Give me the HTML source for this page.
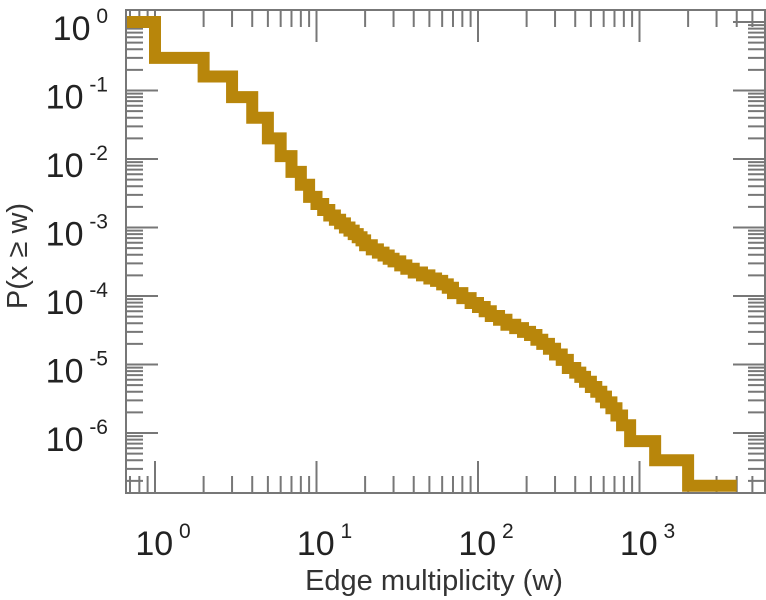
<!DOCTYPE html>
<html><head><meta charset="utf-8"><style>
body{margin:0;background:#fff;}
svg{display:block;font-family:"Liberation Sans",sans-serif;}
</style></head><body>
<svg id="chart" width="766" height="600" viewBox="0 0 766 600">
<g id="ticks"></g>
<g id="labels"></g>
<path id="series" fill="none" stroke="#b8860b" stroke-width="12" stroke-linejoin="miter" stroke-linecap="butt"/>
<rect x="126" y="10" width="639" height="483" fill="none" stroke="#777" stroke-width="2"/>
<text x="434" y="590" font-size="29" text-anchor="middle" fill="#333">Edge multiplicity (w)</text>
<text transform="translate(27,256) rotate(-90)" font-size="29" text-anchor="middle" fill="#333">P(x ≥ w)</text>
</svg>
<script>
const ws=[1,2,3,4,5,6,7,8,9,10,11,12,13,14,15,16,17,18,19,20,22,24,26,28,30,33,36,40,45,50,55,60,65,70,80,90,100,110,120,135,150,170,190,210,230,250,275,300,330,360,400,430,460,500,540,580,620,670,720,780,875,1250,2000,4000];
const ps=[1,0.3,0.16,0.08,0.04,0.02,0.011,0.0065,0.0042,0.0028,0.0022,0.0018,0.0015,0.0013,0.00115,0.001,0.0009,0.0008,0.00072,0.00065,0.00055,0.00048,0.00043,0.00039,0.00035,0.00032,0.00028,0.00025,0.00022,0.0002,0.00018,0.000166,0.000148,0.000132,0.00011,9.3e-5,7.9e-5,6.9e-5,6.0e-5,5.1e-5,4.5e-5,3.8e-5,3.4e-5,3.0e-5,2.7e-5,2.3e-5,2.0e-5,1.7e-5,1.4e-5,1.17e-5,8.9e-6,7.6e-6,6.6e-6,5.6e-6,4.7e-6,4e-6,3.4e-6,2.8e-6,2.3e-6,1.8e-6,1.3e-6,7.6e-7,4e-7,1.7e-7];
const xDecades=[0,1,2,3];
const yDecades=[0,-1,-2,-3,-4,-5,-6];
const NS='http://www.w3.org/2000/svg';
const X0=155,XD=161.5,Y0=22,YD=68.5,L=126,R=765,T=10,B=493;
const sx=w=>X0+XD*Math.log10(w);
const sy=p=>Y0-YD*Math.log10(p);
let d='M'+L+','+sy(ps[0]);
for(let i=0;i<ws.length;i++){
  d+=' L'+sx(ws[i])+','+sy(ps[i]);
  if(i+1<ws.length) d+=' L'+sx(ws[i])+','+sy(ps[i+1]);
}
document.getElementById('series').setAttribute('d',d);
const tg=document.getElementById('ticks'),lg=document.getElementById('labels');
function line(x1,y1,x2,y2,name){
  const l=document.createElementNS(NS,'line');
  l.setAttribute('x1',x1);l.setAttribute('y1',y1);l.setAttribute('x2',x2);l.setAttribute('y2',y2);
  l.setAttribute('stroke','#777');l.setAttribute('stroke-width','2');
  
  
  tg.appendChild(l);
}
for(let e=-1;e<=3;e++){
  for(let m=1;m<10;m++){
    const x=sx(m*Math.pow(10,e));
    if(x<L+1||x>R-1) continue;
    const len=m===1?32:17;
    line(x,B,x,B-len,'x-tick');
    line(x,T,x,T+len,'x-tick-top');
  }
}
for(let e=-7;e<=0;e++){
  for(let m=1;m<10;m++){
    const y=sy(m*Math.pow(10,e));
    if(y<T+1||y>B-1) continue;
    const len=m===1?32:17;
    line(L,y,L+len,y,'y-tick');
    line(R,y,R-len,y,'y-tick-right');
  }
}
function lbl(x,y,exp,anchor,name){
  const t=document.createElementNS(NS,'text');
  t.setAttribute('x',x);t.setAttribute('y',y);t.setAttribute('font-size','34');
  t.setAttribute('fill','#222');t.setAttribute('text-anchor',anchor);
  
  
  const b=document.createElementNS(NS,'tspan');b.textContent='10';
  const s=document.createElementNS(NS,'tspan');s.textContent=' '+exp;
  s.setAttribute('dy','-17');s.setAttribute('font-size','21');
  t.appendChild(b);t.appendChild(s);lg.appendChild(t);
}
xDecades.forEach(e=>lbl(sx(Math.pow(10,e))+8,555,String(e),'middle','x-tick-label'));
yDecades.forEach(e=>lbl(108,sy(Math.pow(10,e))+18,String(e),'end','y-tick-label'));
</script>
</body></html>
